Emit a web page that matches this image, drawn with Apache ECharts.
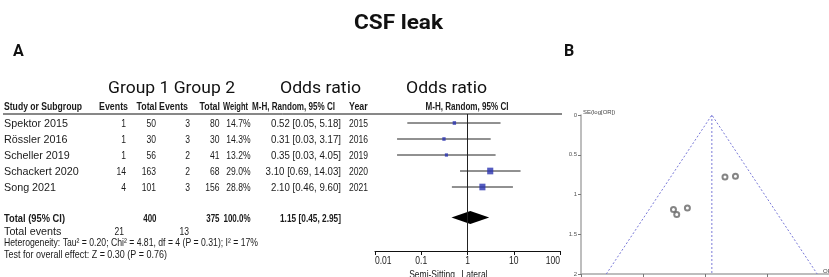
<!DOCTYPE html>
<html><head><meta charset="utf-8">
<script src="https://cdn.jsdelivr.net/npm/echarts@6/dist/echarts.min.js"></script>
<style>html,body{margin:0;padding:0;background:#fff}#c{width:829px;height:277px}</style>
</head><body><div id="c"></div>
<script>
// ---------- data ----------
const studies = ['Spektor 2015','Rössler 2016','Scheller 2019','Schackert 2020','Song 2021'];
const events1 = [1,1,1,14,4];
const total1 = [50,30,56,163,101];
const events2 = [3,3,2,2,3];
const total2 = [80,30,41,68,156];
const weights = [14.7,14.3,13.2,29.0,28.8];
const orValues = [0.52,0.31,0.35,3.10,2.10];
const ciLow = [0.05,0.03,0.03,0.69,0.46];
const ciHigh = [5.18,3.17,4.05,14.03,9.60];
const years = [2015,2016,2019,2020,2021];
const pooledOR = [1.15,0.45,2.95];
const totalRow = ['400','375','100.0%'];
const totalEvents = ['21','13'];
const seValues = [1.17,1.19,1.25,0.77,0.78];
const forestTicks = ['0.01','0.1','1','10','100'];
const funnelTicks = ['0','0.5','1','1.5','2'];
const funnelCenter = 1.29;
const funnelLimits = [0.0256, 64.5];
const rows = [0,1,2,3,4];
const pooledRow = 5.9;

// ---------- narrow font emulation ----------
const BASEFONT = "'Liberation Sans', Arial, sans-serif";
const FS = 11.5;
const heteroText = 'Heterogeneity: Tau² = 0.20; Chi² = 4.81, df = 4 (P = 0.31); I² = 17%';
const testText = 'Test for overall effect: Z = 0.30 (P = 0.76)';
const ctx = document.createElement('canvas').getContext('2d');
const fitSX = (text, bold, target, font) => {
  ctx.font = font || ((bold ? 'bold ' : '') + FS + "px 'Liberation Sans', Arial, sans-serif");
  return target / ctx.measureText(text).width;
};
const SX_NAME = fitSX('Spektor 2015', false, 64);
const SX_NUM = fitSX('2015', false, 19);
const SX_OR = fitSX('0.52 [0.05, 5.18]', false, 70);
const SX_LBL = fitSX('Lateral', false, 26);
const SX_STUDY_H = fitSX('Study or Subgroup', true, 78);
const SX_HDR = fitSX('Events', true, 29);
const SX_MH = fitSX('M-H, Random, 95% CI', true, 83);
const SX_TOT = fitSX('Total (95% CI)', true, 61);
const SX_TOTNUM = fitSX('100.0%', true, 27);
const SX_TOTOR = fitSX('1.15 [0.45, 2.95]', true, 61);
const SX_HET = fitSX(heteroText, false, 254);
const SX_TEST = fitSX(testText, false, 163);
const SX_TITLE = fitSX('CSF leak', false, 89, 'bold 21px Roboto');
const SX_GROUP = fitSX('Group 1 Group 2', false, 127, '16.5px Roboto');
const SX_ODDS = fitSX('Odds ratio', false, 81, '16.5px Roboto');

// ---------- chart ----------
const chart = echarts.init(document.getElementById('c'), null, {renderer:'canvas'});

const ciData = rows.map((r,i)=>[ciLow[i], ciHigh[i], r]);
const sqData = rows.map((r,i)=>({value:[orValues[i], r], symbolSize:[weights[i]*0.19+0.6, weights[i]*0.21+0.6]}));

chart.setOption({
  animation:false,
  grid:[
    {left:375, top:114, width:185, height:137},
    {left:581, top:115, width:252, height:159.5}
  ],
  xAxis:[
    {type:'log', logBase:10, min:0.01, max:100, gridIndex:0,
     axisLine:{onZero:false, lineStyle:{color:'#111', width:1}},
     axisTick:{show:true, length:4, lineStyle:{color:'#111'}},
     axisLabel:{show:false},
     splitLine:{show:false}, minorTick:{show:false}},
    {type:'log', logBase:10, min:0.01, max:100, gridIndex:1,
     axisLine:{onZero:false, lineStyle:{color:'#a8a8a8', width:1.5}},
     axisTick:{show:true, length:4, lineStyle:{color:'#777'}},
     axisLabel:{show:false}, splitLine:{show:false}}
  ],
  yAxis:[
    {type:'value', inverse:true, min:-0.5625, max:8, gridIndex:0, show:false},
    {type:'value', inverse:true, min:0, max:2, interval:0.5, gridIndex:1,
     axisLine:{show:true, onZero:false, lineStyle:{color:'#a8a8a8', width:1.5}},
     axisTick:{show:true, length:3, lineStyle:{color:'#777'}},
     axisLabel:{fontSize:6, color:'#555', margin:4, fontFamily:'Liberation Sans',
       formatter: v => funnelTicks.includes(String(v)) ? String(v) : ''},
     splitLine:{show:false}}
  ],
  series:[
    {type:'custom', xAxisIndex:0, yAxisIndex:0, data:ciData, silent:true, z:2,
     renderItem:(p,api)=>{
       const a = api.coord([api.value(0), api.value(2)]);
       const b = api.coord([api.value(1), api.value(2)]);
       return {type:'line', shape:{x1:a[0],y1:a[1],x2:b[0],y2:b[1]}, style:{stroke:'#222', lineWidth:1}};
     }},
    {type:'scatter', xAxisIndex:0, yAxisIndex:0, symbol:'rect', data:sqData, z:3, silent:true,
     itemStyle:{color:'#2b33b0'},
     markLine:{silent:true, symbol:'none', label:{show:false},
       lineStyle:{color:'#222', width:1, type:'solid'}, data:[{xAxis:1}]}},
    {type:'custom', xAxisIndex:0, yAxisIndex:0, data:[[pooledOR[0],pooledOR[1],pooledOR[2],pooledRow]], silent:true, z:4,
     renderItem:(p,api)=>{
       const c = api.coord([api.value(0), api.value(3)]);
       const l = api.coord([api.value(1), api.value(3)]);
       const r = api.coord([api.value(2), api.value(3)]);
       const h = 6.5;
       return {type:'polygon', shape:{points:[[l[0],c[1]],[c[0],c[1]-h],[r[0],c[1]],[c[0],c[1]+h]]}, style:{fill:'#000'}};
     }},
    {type:'line', xAxisIndex:1, yAxisIndex:1, symbol:'none', silent:true,
     data:[[funnelLimits[0],2],[funnelCenter,0],[funnelLimits[1],2]],
     lineStyle:{color:'#7a7ad8', width:1, type:[2,2]}},
    {type:'line', xAxisIndex:1, yAxisIndex:1, symbol:'none', silent:true,
     data:[[funnelCenter,0],[funnelCenter,2]],
     lineStyle:{color:'#7a7ad8', width:1, type:[2,2]}},
    {type:'scatter', xAxisIndex:1, yAxisIndex:1, symbol:'emptyCircle', symbolSize:5, silent:true,
     data:rows.map((r,i)=>[orValues[i], seValues[i]]),
     itemStyle:{color:'#666', borderWidth:0.8}}
  ]
});

// ---------- text ----------
const yOf = r => chart.convertToPixel({yAxisIndex:0}, r);
const xOf = v => chart.convertToPixel({xAxisIndex:0}, v);
const g = [];
const T = (text, x, y, align, sx=1, opts={}) => g.push({type:'text', x, y, scaleX:sx, silent:true,
  style:Object.assign({text, x:0, y:0, align, verticalAlign:'middle', fill:'#1a1a1a', fontFamily:BASEFONT, fontSize:FS}, opts)});
const BOLD = {fontWeight:'bold'};
const RB = {fontFamily:'Roboto', fontWeight:'bold', fill:'#111'};
const RN = {fontFamily:'Roboto', fontSize:16.5, fill:'#111'};

T('CSF leak', 354, 24, 'left', SX_TITLE, Object.assign({fontSize:21}, RB));
T('A', 13, 52, 'left', 1, Object.assign({fontSize:16}, RB));
T('B', 564, 52, 'left', 1, Object.assign({fontSize:16}, RB));
T('Group 1 Group 2', 108, 89, 'left', SX_GROUP, RN);
T('Odds ratio', 280, 89, 'left', SX_ODDS, RN);
T('Odds ratio', 406, 89, 'left', SX_ODDS, RN);

const hy = 106.5;
T('Study or Subgroup', 4, hy, 'left', SX_STUDY_H, BOLD);
T('Events', 128, hy, 'right', SX_HDR, BOLD);
T('Total', 157, hy, 'right', SX_HDR, BOLD);
T('Events', 188, hy, 'right', SX_HDR, BOLD);
T('Total', 220, hy, 'right', SX_HDR, BOLD);
T('Weight', 248, hy, 'right', SX_HDR*0.85, BOLD);
T('M-H, Random, 95% CI', 335, hy, 'right', SX_MH, BOLD);
T('Year', 349, hy, 'left', SX_HDR, BOLD);
T('M-H, Random, 95% CI', 467, hy, 'center', SX_MH, BOLD);
g.push({type:'line', silent:true, shape:{x1:3, y1:114, x2:562, y2:114}, style:{stroke:'#111', lineWidth:1}});

const f2 = v => v.toFixed(2);
rows.forEach((r,i)=>{
  const y = yOf(r) + 1;
  T(studies[i], 4, y, 'left', SX_NAME);
  T(String(events1[i]), 126, y, 'right', SX_NUM);
  T(String(total1[i]), 156, y, 'right', SX_NUM);
  T(String(events2[i]), 190, y, 'right', SX_NUM);
  T(String(total2[i]), 219.5, y, 'right', SX_NUM);
  T(weights[i].toFixed(1)+'%', 250.5, y, 'right', SX_NUM);
  T(f2(orValues[i])+' ['+f2(ciLow[i])+', '+f2(ciHigh[i])+']', 341, y, 'right', SX_OR);
  T(String(years[i]), 349, y, 'left', SX_NUM);
});
const ty = yOf(pooledRow) + 1;
T('Total (95% CI)', 4, ty, 'left', SX_TOT, BOLD);
T(totalRow[0], 156.5, ty, 'right', SX_TOTNUM, BOLD);
T(totalRow[1], 219.5, ty, 'right', SX_TOTNUM, BOLD);
T(totalRow[2], 250.5, ty, 'right', SX_TOTNUM, BOLD);
T(f2(pooledOR[0])+' ['+f2(pooledOR[1])+', '+f2(pooledOR[2])+']', 341, ty, 'right', SX_TOTOR, BOLD);
T('Total events', 4, 231.5, 'left', SX_NAME);
T(totalEvents[0], 124, 231.5, 'right', SX_NUM);
T(totalEvents[1], 189, 231.5, 'right', SX_NUM);
T(heteroText, 4, 242.5, 'left', SX_HET);
T(testText, 4, 254.5, 'left', SX_TEST);
// forest axis tick labels, placed through the log scale
forestTicks.forEach((t,i) => T(t, xOf(+t), 261,
  i === 0 ? 'left' : (i === forestTicks.length-1 ? 'right' : 'center'), SX_NUM));
T('Semi-Sitting', 455, 275, 'right', SX_LBL);
T('Lateral', 461.5, 275, 'left', SX_LBL);

T('SE(log[OR])', 583, 112.5, 'left', 1, {fontSize:6, fill:'#444'});
T('OR', 823, 271, 'left', 1, {fontSize:6, fill:'#444'});

chart.setOption({graphic:g});
</script></body></html>
